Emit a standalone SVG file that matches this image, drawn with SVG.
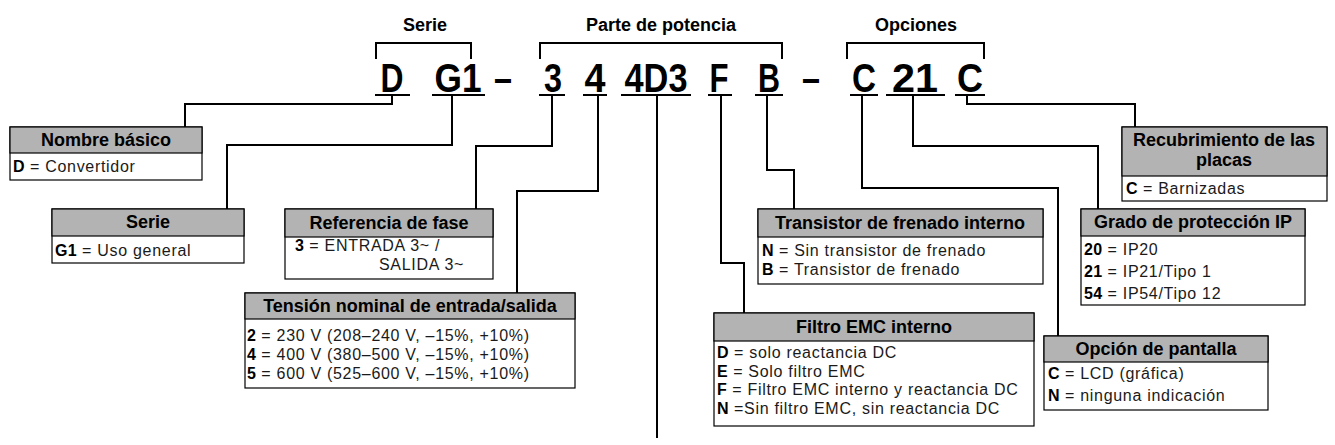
<svg xmlns="http://www.w3.org/2000/svg" width="1335" height="445" viewBox="0 0 1335 445">
<style>
.frame{fill:#fff;stroke:#000;stroke-width:1.2}
.head{fill:#b3b3b3;stroke:#000;stroke-width:1.2}
.ht{font-family:"Liberation Sans",Arial,sans-serif;font-weight:bold;font-size:18px;text-anchor:middle;fill:#000}
.bt{font-family:"Liberation Sans",Arial,sans-serif;font-size:16px;letter-spacing:0.7px;fill:#1a1a1a}
.b{font-weight:bold;fill:#000;letter-spacing:0.3px}
.code{font-family:"Liberation Sans",Arial,sans-serif;font-weight:bold;font-size:40px;text-anchor:middle;fill:#000}
.title{font-family:"Liberation Sans",Arial,sans-serif;font-weight:bold;font-size:18px;text-anchor:middle;fill:#000}
.ln{fill:none;stroke:#000;stroke-width:2;stroke-linecap:square}
</style>
<rect width="1335" height="445" fill="#fff"/>

<g id="code">
<text class="title" x="425" y="31">Serie</text>
<text class="title" x="661" y="31">Parte de potencia</text>
<text class="title" x="916" y="31">Opciones</text>
<path class="ln" d="M376,58 V43 H471 V58 M540,58 V43 H782 V58 M847,58 V43 H984 V58"/>
<text class="code" x="392" y="92" textLength="23" lengthAdjust="spacingAndGlyphs">D</text>
<text class="code" x="458" y="92" textLength="47" lengthAdjust="spacingAndGlyphs">G1</text>
<text class="code" x="503" y="92" textLength="18" lengthAdjust="spacingAndGlyphs">–</text>
<text class="code" x="553" y="92" textLength="18" lengthAdjust="spacingAndGlyphs">3</text>
<text class="code" x="595" y="92" textLength="21" lengthAdjust="spacingAndGlyphs">4</text>
<text class="code" x="656" y="92" textLength="63" lengthAdjust="spacingAndGlyphs">4D3</text>
<text class="code" x="719" y="92" textLength="19" lengthAdjust="spacingAndGlyphs">F</text>
<text class="code" x="769" y="92" textLength="22" lengthAdjust="spacingAndGlyphs">B</text>
<text class="code" x="811" y="92" textLength="18" lengthAdjust="spacingAndGlyphs">–</text>
<text class="code" x="864" y="92" textLength="24" lengthAdjust="spacingAndGlyphs">C</text>
<text class="code" x="915" y="92" textLength="46" lengthAdjust="spacingAndGlyphs">21</text>
<text class="code" x="970" y="92" textLength="26" lengthAdjust="spacingAndGlyphs">C</text>
<path class="ln" stroke-linecap="butt" d="M376,95 H409 M433,95 H484 M540,95 H564 M584,95 H606 M622,95 H690 M709,95 H731 M756,95 H782 M851,95 H877 M887,95 H944 M956,95 H984"/>
</g>

<g id="connectors">
<path class="ln" d="M392,95 V104 H185 V127"/>
<path class="ln" d="M452,95 V145 H227 V209"/>
<path class="ln" d="M552,95 V146 H476 V209"/>
<path class="ln" d="M598,95 V191 H517 V293"/>
<path class="ln" d="M657,95 V437"/>
<path class="ln" d="M721,95 V263 H744 V313"/>
<path class="ln" d="M767,95 V170 H794 V209"/>
<path class="ln" d="M862,95 V188 H1058 V336"/>
<path class="ln" d="M913,95 V146 H1098 V209"/>
<path class="ln" d="M967,95 V104 H1135 V127"/>
</g>

<g id="nombre-basico">
<rect class="frame" x="10" y="127" width="192" height="53"/>
<rect class="head" x="10" y="127" width="192" height="26"/>
<text class="ht" x="106" y="146">Nombre básico</text>
<text class="bt" x="13" y="172"><tspan class="b">D</tspan> = Convertidor</text>
</g>

<g id="serie">
<rect class="frame" x="52" y="209" width="192" height="54"/>
<rect class="head" x="52" y="209" width="192" height="27"/>
<text class="ht" x="148" y="228">Serie</text>
<text class="bt" x="55" y="256"><tspan class="b">G1</tspan> = Uso general</text>
</g>

<g id="referencia-fase">
<rect class="frame" x="285" y="209" width="208" height="70"/>
<rect class="head" x="285" y="209" width="208" height="28"/>
<text class="ht" x="389" y="229">Referencia de fase</text>
<text class="bt" x="295" y="251"><tspan class="b">3</tspan> = ENTRADA 3~ /</text>
<text class="bt" x="379" y="270">SALIDA 3~</text>
</g>

<g id="tension">
<rect class="frame" x="245" y="293" width="330" height="95"/>
<rect class="head" x="245" y="293" width="330" height="26"/>
<text class="ht" x="410" y="312">Tensión nominal de entrada/salida</text>
<text class="bt" x="247" y="341"><tspan class="b">2</tspan> = 230 V (208–240 V, –15%, +10%)</text>
<text class="bt" x="247" y="360"><tspan class="b">4</tspan> = 400 V (380–500 V, –15%, +10%)</text>
<text class="bt" x="247" y="379"><tspan class="b">5</tspan> = 600 V (525–600 V, –15%, +10%)</text>
</g>

<g id="transistor">
<rect class="frame" x="758" y="209" width="285" height="75"/>
<rect class="head" x="758" y="209" width="285" height="28"/>
<text class="ht" x="900" y="229">Transistor de frenado interno</text>
<text class="bt" x="762" y="256"><tspan class="b">N</tspan> = Sin transistor de frenado</text>
<text class="bt" x="762" y="275"><tspan class="b">B</tspan> = Transistor de frenado</text>
</g>

<g id="filtro-emc">
<rect class="frame" x="714" y="313" width="320" height="113"/>
<rect class="head" x="714" y="313" width="320" height="28"/>
<text class="ht" x="874" y="333">Filtro EMC interno</text>
<text class="bt" x="717" y="358"><tspan class="b">D</tspan> = solo reactancia DC</text>
<text class="bt" x="717" y="376.5"><tspan class="b">E</tspan> = Solo filtro EMC</text>
<text class="bt" x="717" y="395"><tspan class="b">F</tspan> = Filtro EMC interno y reactancia DC</text>
<text class="bt" x="717" y="413.5"><tspan class="b">N</tspan> =Sin filtro EMC, sin reactancia DC</text>
</g>

<g id="grado-ip">
<rect class="frame" x="1081" y="209" width="224" height="96"/>
<rect class="head" x="1081" y="209" width="224" height="27"/>
<text class="ht" x="1193" y="228">Grado de protección IP</text>
<text class="bt" x="1084" y="255"><tspan class="b">20</tspan> = IP20</text>
<text class="bt" x="1084" y="277"><tspan class="b">21</tspan> = IP21/Tipo 1</text>
<text class="bt" x="1084" y="299"><tspan class="b">54</tspan> = IP54/Tipo 12</text>
</g>

<g id="opcion-pantalla">
<rect class="frame" x="1044" y="336" width="224" height="74"/>
<rect class="head" x="1044" y="336" width="224" height="26"/>
<text class="ht" x="1156" y="355">Opción de pantalla</text>
<text class="bt" x="1048" y="379"><tspan class="b">C</tspan> = LCD (gráfica)</text>
<text class="bt" x="1048" y="401"><tspan class="b">N</tspan> = ninguna indicación</text>
</g>

<g id="recubrimiento">
<rect class="frame" x="1122" y="127" width="205" height="74"/>
<rect class="head" x="1122" y="127" width="205" height="49"/>
<text class="ht" x="1224" y="146">Recubrimiento de las</text>
<text class="ht" x="1224" y="166">placas</text>
<text class="bt" x="1126" y="194"><tspan class="b">C</tspan> = Barnizadas</text>
</g>
</svg>
